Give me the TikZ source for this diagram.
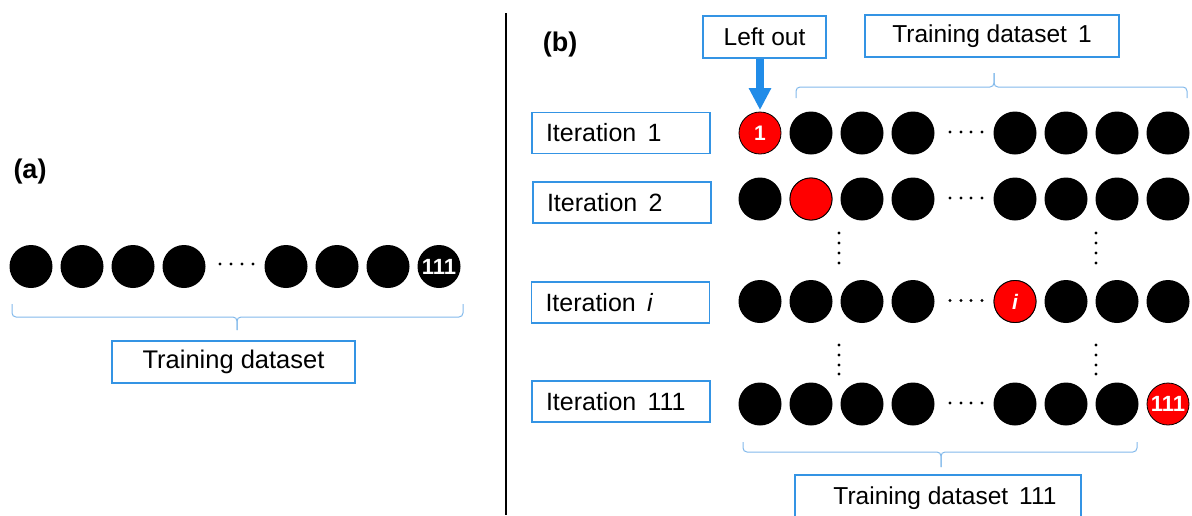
\documentclass[tikz,border=0pt]{standalone}
\usepackage{fontspec}
\setmainfont{Liberation Sans}
\usetikzlibrary{arrows.meta}
\definecolor{boxblue}{RGB}{52,148,228}
\definecolor{braceblue}{RGB}{130,185,235}
\definecolor{arrowblue}{RGB}{33,140,232}
\newcommand{\wsp}{\hspace{0.45em}}
\begin{document}
\begin{tikzpicture}[x=1pt,y=-1pt,
  lbl/.style={draw=boxblue,line width=1.4pt,minimum height=41pt,inner sep=0pt,font=\fontsize{24.5}{28}\selectfont},
  itbox/.style={lbl,inner xsep=14pt,text width=150pt,align=left,font=\fontsize{25}{28}\selectfont},
  blk/.style={circle,fill=black,minimum size=43pt,inner sep=0pt},
  redc/.style={circle,fill=red,draw=black,line width=0.8pt,minimum size=42pt,inner sep=0pt,text=white,font=\fontsize{21}{24}\selectfont\bfseries},
  numc/.style={text=white,font=\fontsize{22}{24}\selectfont\bfseries},
  brc/.style={draw=braceblue,line width=1pt,rounded corners=4pt},
  panel/.style={font=\fontsize{27}{30}\selectfont\bfseries}
]
\useasboundingbox (0,0) rectangle (1192,515);
\clip (0,0) rectangle (1192,515);

% divider
\draw[line width=1.2pt] (506,13) -- (506,515);

% panel labels
\node[panel] (la) at (30,172) {(a)};
\node[panel] (lb) at (560,45) {(b)};

% ---------- panel (a) ----------
\foreach \x [count=\i] in {31,82,133,184,286,337,388}
  \node[blk] (a\i) at (\x,266.5) {};
\node[blk,numc] (a8) at (439,266.5) {111};
\foreach \x in {220,231,242,253}
  \fill (\x,264) circle (1.6pt);
\draw[brc] (12,304) |- (237,317) -- (237,330);
\draw[brc] (463,304) |- (237,317) -- (237,330);
\node[lbl,minimum width=243pt,minimum height=42pt,font=\fontsize{25.5}{28}\selectfont] (tda) at (233.5,362) {Training dataset};

% ---------- panel (b) ----------
\node[lbl,minimum width=123pt,minimum height=42pt] (leftout) at (764.5,37) {Left out};
\node[lbl,minimum width=254pt,minimum height=42pt] (td1) at (992,36) {Training dataset\wsp 1};

\node[itbox] (it1) at (621,133) {Iteration\wsp 1};
\node[itbox] (it2) at (622,202.5) {Iteration\wsp 2};
\node[itbox] (iti) at (620.5,302.5) {Iteration\wsp \textit{i}};
\node[itbox] (itn) at (621,401.5) {Iteration\wsp 111};

% row 1
\node[redc] (r1c1) at (760,133) {1};
\foreach \x [count=\i from 2] in {811,862,913,1015,1066,1117,1168}
  \node[blk] (r1c\i) at (\x,133) {};
% row 2
\foreach \x [count=\i] in {760,811,862,913,1015,1066,1117,1168}
  \node[blk] (r2c\i) at (\x,199) {};
\node[redc] (r2c2) at (811,199) {};
% row i
\foreach \x [count=\i] in {760,811,862,913,1015,1066,1117,1168}
  \node[blk] (r3c\i) at (\x,301.5) {};
\node[redc,font=\fontsize{21}{24}\selectfont\bfseries\itshape] (r3c5) at (1015,301.5) {i};
% row 111
\foreach \x [count=\i] in {760,811,862,913,1015,1066,1117}
  \node[blk] (r4c\i) at (\x,404) {};
\node[redc,font=\fontsize{22}{24}\selectfont\bfseries] (r4c8) at (1168,404) {111};

% horizontal ellipses
\foreach \y in {132,198,300.5,403}
  \foreach \x in {950,961,971,982}
    \fill (\x,\y) circle (1.6pt);
% vertical ellipses
\foreach \x in {839,1096}
  \foreach \y in {233,243,253,263,345,355,365,374}
    \fill (\x,\y) circle (1.6pt);

% arrow
\draw[arrowblue,line width=8pt,-{Triangle[width=21pt,length=22pt]},shorten >=1.5pt]
  (r1c1.north |- leftout.south) -- (r1c1.north);

% braces
\draw[brc] (796,98) |- (994,87) -- (994,73);
\draw[brc] (1187,98) |- (994,87) -- (994,73);
\draw[brc] (743,442) |- (941,452) -- (941,467);
\draw[brc] (1137,442) |- (941,452) -- (941,467);

\node[lbl,minimum width=286pt,minimum height=46pt] (tdn) at (938,498) {\hspace*{14pt}Training dataset\wsp 111};
\end{tikzpicture}
\end{document}
